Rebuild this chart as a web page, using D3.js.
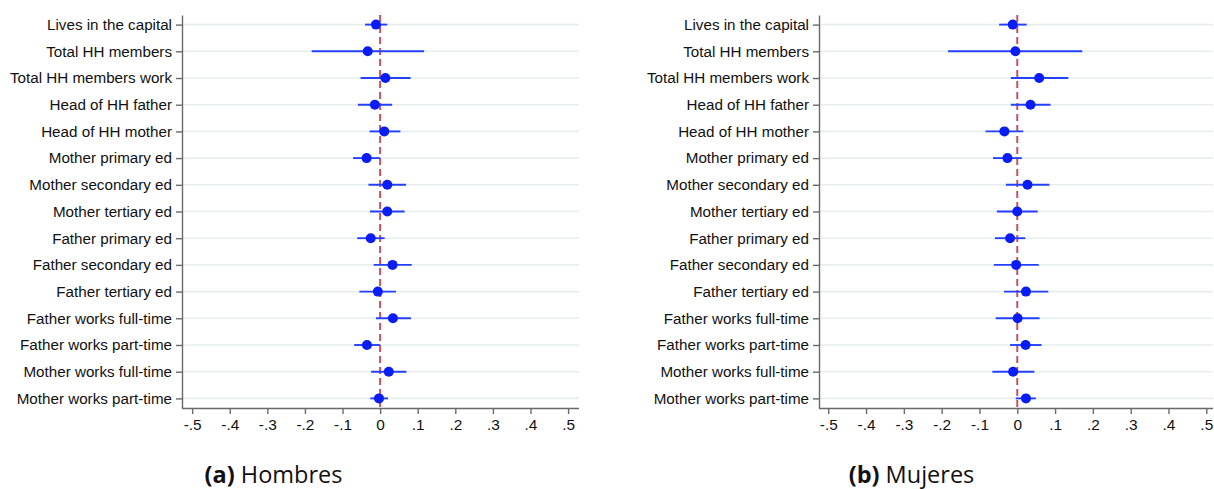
<!DOCTYPE html>
<html>
<head>
<meta charset="utf-8">
<script src="https://cdn.jsdelivr.net/npm/d3@7"></script>
<style>
  html, body { margin: 0; padding: 0; background: #fff; }
  svg { display: block; }
  .tick text { font-family: "Liberation Sans", Arial, Helvetica, sans-serif; fill: #111; }
</style>
</head>
<body>
<svg id="chart" width="1214" height="489"></svg>
<script>
const categories = [
  "Lives in the capital", "Total HH members", "Total HH members work",
  "Head of HH father", "Head of HH mother", "Mother primary ed",
  "Mother secondary ed", "Mother tertiary ed", "Father primary ed",
  "Father secondary ed", "Father tertiary ed", "Father works full-time",
  "Father works part-time", "Mother works full-time", "Mother works part-time"
];

const tickValues = [-0.5, -0.4, -0.3, -0.2, -0.1, 0, 0.1, 0.2, 0.3, 0.4, 0.5];
const tickLabels = ["-.5", "-.4", "-.3", "-.2", "-.1", "0", ".1", ".2", ".3", ".4", ".5"];

// (a) Hombres
const menEst = [-0.011, -0.033, 0.014, -0.014, 0.011, -0.036, 0.019, 0.019, -0.025, 0.033, -0.006, 0.034, -0.035, 0.023, -0.003];
const menLo  = [-0.040, -0.182, -0.052, -0.059, -0.028, -0.072, -0.031, -0.027, -0.061, -0.017, -0.055, -0.011, -0.069, -0.024, -0.026];
const menHi  = [0.019, 0.117, 0.081, 0.032, 0.054, 0.000, 0.069, 0.065, 0.012, 0.084, 0.042, 0.082, 0.000, 0.070, 0.021];

// (b) Mujeres
const womenEst = [-0.012, -0.005, 0.058, 0.035, -0.034, -0.026, 0.027, 0.000, -0.019, -0.003, 0.023, 0.001, 0.022, -0.011, 0.023];
const womenLo  = [-0.048, -0.183, -0.017, -0.017, -0.084, -0.064, -0.030, -0.054, -0.059, -0.062, -0.035, -0.057, -0.019, -0.066, -0.004];
const womenHi  = [0.025, 0.172, 0.135, 0.088, 0.016, 0.012, 0.085, 0.054, 0.021, 0.057, 0.082, 0.059, 0.064, 0.045, 0.049];

const captions = [["(a)", " Hombres"], ["(b)", " Mujeres"]];

const svg = d3.select("#chart");

const panels = [
  { est: menEst, lo: menLo, hi: menHi, x0: 182, x1: 579, domain: [-0.527, 0.529], cap: captions[0], capX: 273.5 },
  { est: womenEst, lo: womenLo, hi: womenHi, x0: 819, x1: 1213, domain: [-0.5245, 0.5178], cap: captions[1], capX: 911.5 }
];

const yTop = 15, yBot = 408;
const axisColor = "#6a6a6a";

panels.forEach(p => {
  const g = svg.append("g");
  const x = d3.scaleLinear().domain(p.domain).range([p.x0, p.x1]);
  const y = d3.scalePoint().domain(categories).range([yTop, yBot]).padding(0.36);

  // grid lines
  g.append("g").selectAll("line").data(categories).join("line")
    .attr("x1", p.x0).attr("x2", p.x1)
    .attr("y1", d => y(d)).attr("y2", d => y(d))
    .attr("stroke", "#e7eeef").attr("stroke-width", 1.6);

  // reference line at zero
  g.append("line")
    .attr("x1", x(0)).attr("x2", x(0))
    .attr("y1", yTop).attr("y2", yBot)
    .attr("stroke", "#c05560").attr("stroke-width", 2)
    .attr("stroke-dasharray", "7,4");

  // confidence intervals
  g.append("g").selectAll("line").data(categories).join("line")
    .attr("x1", (d, i) => x(p.lo[i])).attr("x2", (d, i) => x(p.hi[i]))
    .attr("y1", d => y(d)).attr("y2", d => y(d))
    .attr("stroke", "#2440ff").attr("stroke-width", 1.9);

  // point estimates
  g.append("g").selectAll("circle").data(categories).join("circle")
    .attr("cx", (d, i) => x(p.est[i])).attr("cy", d => y(d))
    .attr("r", 5).attr("fill", "#0a1cf5");

  // y axis
  const ya = g.append("g").attr("transform", `translate(${p.x0},0)`)
    .call(d3.axisLeft(y).tickSize(6).tickSizeOuter(0).tickPadding(4));
  ya.selectAll("text").attr("font-size", 15.2);
  ya.selectAll("line, path").attr("stroke", axisColor).attr("stroke-width", 1.4);

  // x axis
  const xa = g.append("g").attr("transform", `translate(0,${yBot})`)
    .call(d3.axisBottom(x).tickValues(tickValues)
      .tickFormat((d, i) => tickLabels[i]).tickSize(6).tickSizeOuter(0).tickPadding(5));
  xa.select(".domain").attr("d", `M${p.x0},0.5H${p.x1}`);
  xa.selectAll("text").attr("font-size", 15.4);
  xa.selectAll("line, path").attr("stroke", axisColor).attr("stroke-width", 1.4);

  // caption
  const t = svg.append("text")
    .attr("x", p.capX).attr("y", 483)
    .attr("text-anchor", "middle")
    .attr("font-family", "'Open Sans', 'Noto Sans', sans-serif")
    .attr("font-size", 23.5).attr("fill", "#111");
  t.append("tspan").attr("font-weight", "bold").text(p.cap[0]);
  t.append("tspan").text(p.cap[1]);
});
</script>
</body>
</html>
